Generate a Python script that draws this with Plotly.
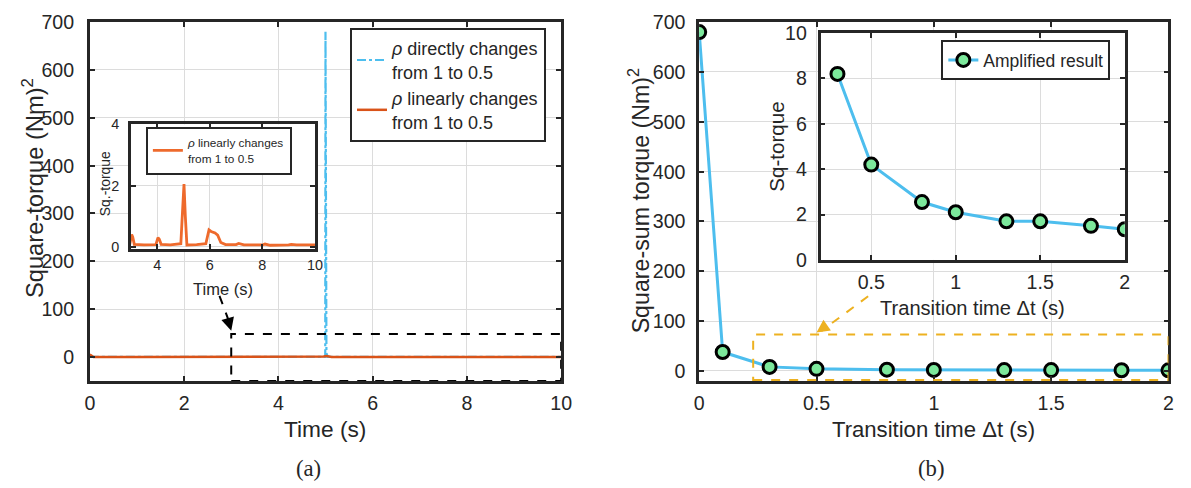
import plotly.graph_objects as go

# ---------------- data ----------------
# (a) time responses, square torque
t_direct = [0.0, 4.995, 5.0, 5.02, 5.05, 10.0]
sq_direct = [0.1, 0.1, 680.0, 8.0, 0.1, 0.1]

t_linear = [0.0, 0.03, 0.08, 1.0, 2.0, 2.95, 3.03, 3.07, 3.13, 3.5, 3.95, 4.03, 4.08,
            4.15, 4.5, 4.9, 4.96, 5.02, 5.07, 5.13, 5.5, 5.85, 5.97, 6.05, 6.2, 6.3,
            6.42, 6.6, 7.0, 7.1, 7.3, 8.0, 8.1, 8.3, 9.0, 9.1, 9.3, 10.0]
sq_linear = [5.0, 2.5, 0.1, 0.06, 0.06, 0.05, 0.4, 0.32, 0.08, 0.06, 0.07, 0.3, 0.25,
             0.08, 0.06, 0.1, 1.1, 2.05, 1.0, 0.06, 0.07, 0.1, 0.55, 0.5, 0.45, 0.38,
             0.14, 0.07, 0.07, 0.11, 0.06, 0.06, 0.09, 0.05, 0.06, 0.08, 0.06, 0.06]

# (b) square-sum torque vs transition time
dt = [0.0, 0.1, 0.3, 0.5, 0.8, 1.0, 1.3, 1.5, 1.8, 2.0]
sq_sum = [680.0, 38.0, 8.2, 4.2, 2.55, 2.1, 1.7, 1.7, 1.5, 1.35]
dt_zoom = [0.3, 0.5, 0.8, 1.0, 1.3, 1.5, 1.8, 2.0]
sq_zoom = [8.2, 4.2, 2.55, 2.1, 1.7, 1.7, 1.5, 1.35]

ticks_a_x = [0, 2, 4, 6, 8, 10]
ticks_a_y = [0, 100, 200, 300, 400, 500, 600, 700]
ticks_ia_x = [4, 6, 8, 10]
ticks_ia_y = [0, 2, 4]
ticks_b_x = [0, 0.5, 1, 1.5, 2]
ticks_b_y = [0, 100, 200, 300, 400, 500, 600, 700]
ticks_ib_x = [0.5, 1, 1.5, 2]
ticks_ib_y = [0, 2, 4, 6, 8, 10]

# ---------------- layout helpers ----------------
W, H = 1191, 488
# calibration of page -> picture mapping
OX, SX, OY, SY = 4.2, 0.986, 8.8, 0.96
FS = 1.03
def fx(p):
    return ((p - OX) / SX) / W
def fy(p):
    return 1 - ((p - OY) / SY) / H
def fs(s):
    return round(s * FS, 1)

FONT = "Liberation Sans, Arial, sans-serif"
SERIF = "Liberation Serif, Times New Roman, serif"
INK = "#262626"
GRID = "#dcdcdc"
BLUE = "#4DBEEE"
ORANGE = "#D95319"
ORANGE_L = "#EE6A2C"
GOLD = "#EDB120"
GREEN = "#7CE89B"

fig = go.Figure()

fig.add_trace(go.Scatter(x=t_direct, y=sq_direct, mode="lines", xaxis="x", yaxis="y",
                         line=dict(color=BLUE, width=2.2, dash="dashdot"),
                         name="<i>ρ</i> directly changes<br>from 1 to 0.5", legend="legend"))
fig.add_trace(go.Scatter(x=t_linear, y=sq_linear, mode="lines", xaxis="x", yaxis="y",
                         line=dict(color=ORANGE, width=2.5),
                         name="<i>ρ</i> linearly changes<br>from 1 to 0.5", legend="legend"))
fig.add_trace(go.Scatter(x=t_linear, y=sq_linear, mode="lines", xaxis="x3", yaxis="y3",
                         line=dict(color=ORANGE_L, width=2.8),
                         name="<i>ρ</i> linearly changes<br>from 1 to 0.5", legend="legend2"))
fig.add_trace(go.Scatter(x=dt, y=sq_sum, mode="lines+markers", xaxis="x2", yaxis="y2",
                         line=dict(color=BLUE, width=3),
                         marker=dict(size=13, color=GREEN, line=dict(color="black", width=3)),
                         showlegend=False))
fig.add_trace(go.Scatter(x=dt_zoom, y=sq_zoom, mode="lines+markers", xaxis="x4", yaxis="y4",
                         line=dict(color=BLUE, width=3),
                         marker=dict(size=13, color=GREEN, line=dict(color="black", width=3)),
                         name="Amplified result", legend="legend3"))

def ax(domain, rng, tickvals, size, standoff, anchor):
    return dict(domain=domain, range=rng, tickvals=tickvals, showgrid=True,
                gridcolor=GRID, gridwidth=1, zeroline=False, showline=True,
                linecolor=INK, linewidth=2.5, mirror="ticks", ticks="inside",
                ticklen=5, tickwidth=1.5, tickcolor=INK, anchor=anchor,
                tickfont=dict(family=FONT, size=fs(size), color=INK),
                ticklabelstandoff=standoff, fixedrange=True)

fig.update_layout(
    width=W, height=H, margin=dict(l=0, r=0, t=0, b=0),
    paper_bgcolor="white", plot_bgcolor="white",
    font=dict(family=FONT, color=INK),
    xaxis=ax([fx(89), fx(560)], [0, 10], ticks_a_x, 19, 3, "y"),
    yaxis=ax([fy(380.7), fy(20)], [-50, 700], ticks_a_y, 19, 9, "x"),
    xaxis2=ax([fx(698), fx(1167)], [0, 2], ticks_b_x, 19, 3, "y2"),
    yaxis2=ax([fy(380.7), fy(20)], [-20, 700], ticks_b_y, 19, 7, "x2"),
    xaxis3=ax([fx(130), fx(314)], [3, 10], ticks_ia_x, 14, 1, "y3"),
    yaxis3=ax([fy(248.3), fy(122.7)], [-0.08, 4], ticks_ia_y, 14, 6, "x3"),
    xaxis4=ax([fx(819.3), fx(1123.3)], [0.2, 2], ticks_ib_x, 19, 3, "y4"),
    yaxis4=ax([fy(259), fy(31)], [0, 10], ticks_ib_y, 19, 7, "x4"),
    legend=dict(x=fx(349), y=fy(26), xanchor="left", yanchor="top",
                bgcolor="white", bordercolor=INK, borderwidth=2,
                font=dict(family=FONT, size=fs(17.5), color=INK)),
    legend2=dict(x=fx(145), y=fy(125), xanchor="left", yanchor="top",
                 bgcolor="white", bordercolor=INK, borderwidth=2,
                 font=dict(family=FONT, size=fs(11.5), color=INK)),
    legend3=dict(x=fx(940), y=fy(38), xanchor="left", yanchor="top",
                 bgcolor="white", bordercolor=INK, borderwidth=2,
                 font=dict(family=FONT, size=fs(17), color=INK)),
)

# zoom boxes and arrows (annotation guides)
box_a = dict(x0=3, x1=10, y0=-50, y1=48)
box_b = dict(x0=0.23, x1=2.0, y0=-18, y1=73)
fig.add_shape(type="rect", xref="x", yref="y", **box_a,
              line=dict(color="black", width=2, dash="dash"))
fig.add_shape(type="rect", xref="x2", yref="y2", **box_b,
              line=dict(color=GOLD, width=2, dash="dash"))

arrow_a = dict(x0=2.75, y0=128, x1=3.0, y1=62)
arrow_b = dict(x0=0.72, y0=150, x1=0.52, y1=80)
fig.add_shape(type="line", xref="x", yref="y", **arrow_a,
              line=dict(color="black", width=2, dash="dash"))
fig.add_shape(type="line", xref="x2", yref="y2", **arrow_b,
              line=dict(color=GOLD, width=2, dash="dash"))
fig.add_annotation(x=3.0, y=55, xref="x", yref="y", ax=-4, ay=-14, text="",
                   showarrow=True, arrowhead=2, arrowsize=1.3, arrowwidth=2,
                   arrowcolor="black")
fig.add_annotation(x=0.5, y=77, xref="x2", yref="y2", ax=10, ay=-7, text="",
                   showarrow=True, arrowhead=2, arrowsize=1.3, arrowwidth=2,
                   arrowcolor=GOLD)

def label(text, x, y, size, angle=0, family=FONT):
    fig.add_annotation(text=text, x=fx(x), y=fy(y), xref="paper", yref="paper",
                       showarrow=False, textangle=angle, xanchor="center",
                       yanchor="middle", font=dict(family=family, size=fs(size), color=INK))

label("Square-torque (Nm)<sup>2</sup>", 32, 187, 23, -90)
label("Time (s)", 324.5, 429, 22)
label("(a)", 308, 469, 22, family=SERIF)
label("Square-sum torque (Nm)<sup>2</sup>", 638, 200, 22.5, -90)
label("Transition time Δt (s)", 932, 430, 21.5)
label("(b)", 930, 469, 22, family=SERIF)
label("Sq.-torque", 104, 182, 13.5, -90)
label("Time (s)", 222, 288, 16)
label("Sq-torque", 775, 145, 20, -90)
label("Transition time Δt (s)", 971, 307, 19.5)

fig.write_html("out.html", config={"displayModeBar": False},
               post_script="document.body.style.margin='0px';"
                           "document.body.style.overflow='hidden';")
